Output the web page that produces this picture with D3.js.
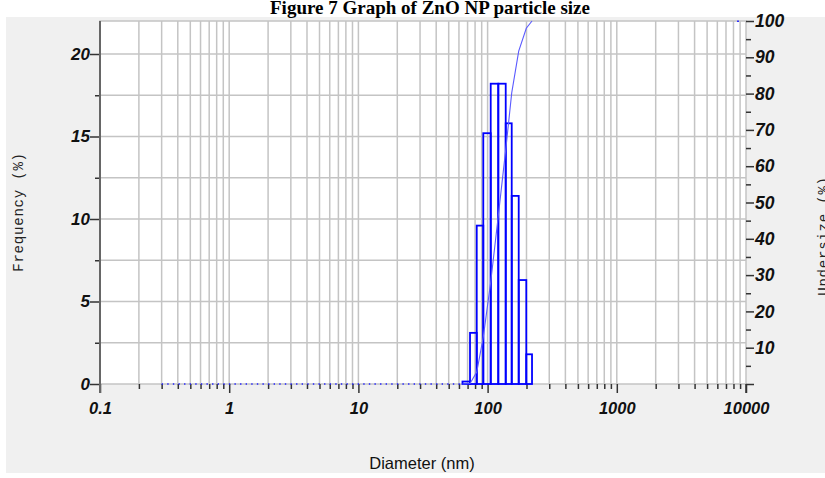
<!DOCTYPE html>
<html lang="en">
<head>
    <meta charset="UTF-8">
    <title>ZnO NP particle size</title>
    <script src="https://d3js.org/d3.v7.min.js"></script>
    <style>
      body { margin: 0; background: #fff; }
      .tick-lbl { font-family: "Liberation Sans", Arial, sans-serif; font-weight: bold; font-style: italic; font-size: 16.5px; fill: #111; }
    </style>
</head>
<body>
    <div id="container"></div>
<script>
    // bin edges (nm), frequency per bin (%), cumulative undersize (%) at upper edge
    var binEdges = [63.9, 73.1, 82.4, 92.6, 105.7, 121.0, 138.1, 153.7, 174.1, 199.3, 220.7];
    var frequency = [0.15, 3.1, 9.6, 15.2, 18.2, 18.2, 15.8, 11.4, 6.3, 1.8];
    var undersize = [0.15, 3.3, 12.9, 28.1, 46.3, 64.5, 80.2, 91.7, 98.0, 100];
    var zeroRange = [0.3, 63.9];      // dotted part of the curve at 0 %
    var topPoint = [8670, 100];

    var xTicks = [0.1, 1, 10, 100, 1000, 10000];
    var xTickLabels = ["0.1", "1", "10", "100", "1000", "10000"];
    var yLeftTicks = [0, 5, 10, 15, 20];
    var yLeftMinor = [2.5, 7.5, 12.5, 17.5];
    var yRightTicks = [0, 10, 20, 30, 40, 50, 60, 70, 80, 90, 100];
    var yRightMinor = [5, 15, 25, 35, 45, 55, 65, 75, 85, 95];

    var width = 825, height = 478;
    var plot = {left: 100, right: 746, top: 21, bottom: 384};

    var svg = d3.select("#container").append("svg")
        .attr("width", width).attr("height", height);

    // grey panel
    svg.append("rect").attr("x", 6).attr("y", 17).attr("width", width - 6).attr("height", 456)
        .attr("fill", "#f0f0f0");

    // title (top edge of the picture crops it a little)
    svg.append("text").attr("x", 430).attr("y", 14)
        .attr("text-anchor", "middle")
        .style("font-family", "'Liberation Serif', 'Times New Roman', serif")
        .style("font-weight", "bold").style("font-size", "19px")
        .text("Figure 7 Graph of ZnO NP particle size");

    var x = d3.scaleLog().domain([0.1, 10000]).range([plot.left, plot.right]);
    var yL = d3.scaleLinear().domain([0, 22]).range([plot.bottom, plot.top]);
    var yR = d3.scaleLinear().domain([0, 100]).range([plot.bottom, plot.top]);

    // plot area
    svg.append("rect").attr("x", plot.left).attr("y", plot.top)
        .attr("width", plot.right - plot.left).attr("height", plot.bottom - plot.top)
        .attr("fill", "#fff").attr("stroke", "#c4c4c4").attr("stroke-width", 1.5);

    // log grid
    var logGrid = [];
    for (var e = -1; e < 4; e++) {
        for (var m = 1; m < 10; m++) logGrid.push(m * Math.pow(10, e));
    }
    var minorX = logGrid.filter(function(d){ return xTicks.indexOf(d) < 0 && Math.abs(Math.log10(d) % 1) > 1e-9; });

    svg.append("g").selectAll("line").data(logGrid.slice(1)).enter().append("line")
        .attr("x1", function(d){ return x(d); }).attr("x2", function(d){ return x(d); })
        .attr("y1", plot.top).attr("y2", plot.bottom)
        .attr("stroke", "#c4c4c4").attr("stroke-width", 1.5);

    svg.append("g").selectAll("line").data(yLeftTicks.concat(yLeftMinor).filter(function(d){ return d > 0; })).enter().append("line")
        .attr("x1", plot.left).attr("x2", plot.right)
        .attr("y1", function(d){ return yL(d); }).attr("y2", function(d){ return yL(d); })
        .attr("stroke", "#c4c4c4").attr("stroke-width", 1.5);

    // bottom axis
    var xAxis = svg.append("g").attr("transform", "translate(0," + plot.bottom + ")")
        .call(d3.axisBottom(x).tickValues(xTicks).tickSize(9).tickPadding(5)
            .tickFormat(function(d, i){ return xTickLabels[i]; }));
    svg.append("g").attr("transform", "translate(0," + plot.bottom + ")")
        .call(d3.axisBottom(x).tickValues(minorX).tickSize(5).tickFormat(""));

    // left axis
    var yAxisL = svg.append("g").attr("transform", "translate(" + plot.left + ",0)")
        .call(d3.axisLeft(yL).tickValues(yLeftTicks).tickSize(10).tickPadding(0));
    svg.append("g").attr("transform", "translate(" + plot.left + ",0)")
        .call(d3.axisLeft(yL).tickValues(yLeftMinor).tickSize(5).tickFormat(""));

    // right axis
    var yAxisR = svg.append("g").attr("transform", "translate(" + plot.right + ",0)")
        .call(d3.axisRight(yR).tickValues(yRightTicks).tickSize(8).tickPadding(1)
            .tickFormat(function(d){ return d === 0 ? "" : d; }));
    svg.append("g").attr("transform", "translate(" + plot.right + ",0)")
        .call(d3.axisRight(yR).tickValues(yRightMinor).tickSize(5).tickFormat(""));

    svg.selectAll(".domain").remove();
    svg.selectAll(".tick line").attr("stroke", "#333").attr("stroke-width", 1.5);
    svg.selectAll(".tick text").attr("class", "tick-lbl").attr("fill", "#111");
    xAxis.selectAll(".tick text").attr("dy", "0.95em");
    yAxisL.selectAll(".tick text").style("font-size", "17px");
    yAxisR.selectAll(".tick text").style("font-size", "17.5px");

    // dark left axis line
    svg.append("line").attr("x1", plot.left).attr("x2", plot.left)
        .attr("y1", plot.top).attr("y2", plot.bottom + 9)
        .attr("stroke", "#666").attr("stroke-width", 2);
    svg.append("line").attr("x1", plot.right).attr("x2", plot.right)
        .attr("y1", plot.bottom).attr("y2", plot.bottom + 9)
        .attr("stroke", "#333").attr("stroke-width", 1.5);

    // histogram bars
    svg.append("g").selectAll("rect").data(frequency).enter().append("rect")
        .attr("x", function(d, i){ return x(binEdges[i]); })
        .attr("width", function(d, i){ return x(binEdges[i + 1]) - x(binEdges[i]); })
        .attr("y", function(d){ return yL(d); })
        .attr("height", function(d){ return plot.bottom - yL(d); })
        .attr("fill", "none").attr("stroke", "#0000ff").attr("stroke-width", 1.8);

    // cumulative undersize curve
    var curvePts = [[binEdges[0], 0]].concat(undersize.map(function(d, i){ return [binEdges[i + 1], d]; }));
    var line = d3.line().x(function(d){ return x(d[0]); }).y(function(d){ return yR(d[1]); });
    svg.append("path").attr("d", line(curvePts))
        .attr("fill", "none").attr("stroke", "#5a5aff").attr("stroke-width", 1.1);

    svg.append("path").attr("d", line([[zeroRange[0], 0], [zeroRange[1], 0]]))
        .attr("fill", "none").attr("stroke", "#2020ff").attr("stroke-width", 1.4)
        .attr("stroke-dasharray", "1.4,4.2");

    svg.append("rect").attr("x", x(topPoint[0]) - 1).attr("y", yR(topPoint[1]) - 0.5)
        .attr("width", 2).attr("height", 1.5).attr("fill", "#3030ff");

    // axis titles
    svg.append("text")
        .attr("transform", "translate(23,212) rotate(-90)")
        .attr("text-anchor", "middle")
        .style("font-family", "'Liberation Mono', 'Courier New', monospace")
        .style("font-size", "14px").style("letter-spacing", "0.8px").attr("fill", "#222")
        .text("Frequency (%)");

    svg.append("text")
        .attr("transform", "translate(828,236) rotate(-90)")
        .attr("text-anchor", "middle")
        .style("font-family", "'Liberation Mono', 'Courier New', monospace")
        .style("font-size", "14px").style("letter-spacing", "0.8px").attr("fill", "#222")
        .text("Undersize (%)");

    svg.append("text").attr("x", 422).attr("y", 469)
        .attr("text-anchor", "middle")
        .style("font-family", "'Liberation Sans', Arial, sans-serif")
        .style("font-size", "16.5px").attr("fill", "#111")
        .text("Diameter (nm)");

    // picture is cut off below the panel
    svg.append("rect").attr("x", 0).attr("y", 473).attr("width", width).attr("height", 5)
        .attr("fill", "#fff");
</script>
</body>
</html>
